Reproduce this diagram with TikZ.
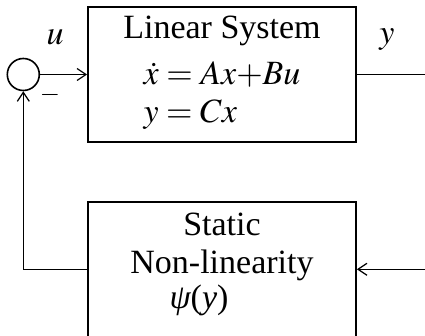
\documentclass[tikz,border=0pt]{standalone}
\usepackage{mathptmx}
\usepackage[no-math]{fontspec}
\setmainfont{Liberation Serif}
\usepackage{tikz}
\usetikzlibrary{positioning, arrows.meta}

\begin{document}
\begin{tikzpicture}[
    x=1pt, y=1pt,
    box/.style={draw, line width=1.8pt, align=center, inner sep=0pt, minimum width=268pt, minimum height=135pt},
    sum/.style={draw, circle, line width=1.6pt, inner sep=0pt, minimum size=32pt},
    wire/.style={line width=1.2pt},
    >={Straight Barb[length=9pt, width=12pt]},
    font=\fontsize{34}{35}\selectfont
  ]
    \useasboundingbox (0,0) rectangle (425,336);
    \node[box] (sys) at (222,261.5) {Linear System\\[11pt]\begin{tabular}[t]{@{}l@{}}$\dot{x} = Ax{+}Bu$\\[3pt]$y = Cx$\end{tabular}};
    \node[box, below=58pt of sys] (nonlin) {Static\\[3pt]Non-linearity\\{\itshape ψ}({\itshape y})\hspace*{46pt}\rule[-18pt]{0pt}{0pt}};
    \node[sum, left=47pt of sys] (sum) {};
    \coordinate[right=69pt of sys] (yout);
    \coordinate[right=69pt of nonlin] (yin);
    \node (ulab) at (55,299) {$u$};
    \node (ylab) at (387,296) {$y$};
    \node[font=\fontsize{26}{26}\selectfont] (minus) at (50,241) {$-$};
    \draw[wire, ->] (sum) -- (sys);
    \draw[wire] (sys) -- (yout);
    \draw[wire, ->] (yin) -- (nonlin);
    \draw[wire, ->] (nonlin.west) -| (sum.south);
  \end{tikzpicture}
\end{document}
